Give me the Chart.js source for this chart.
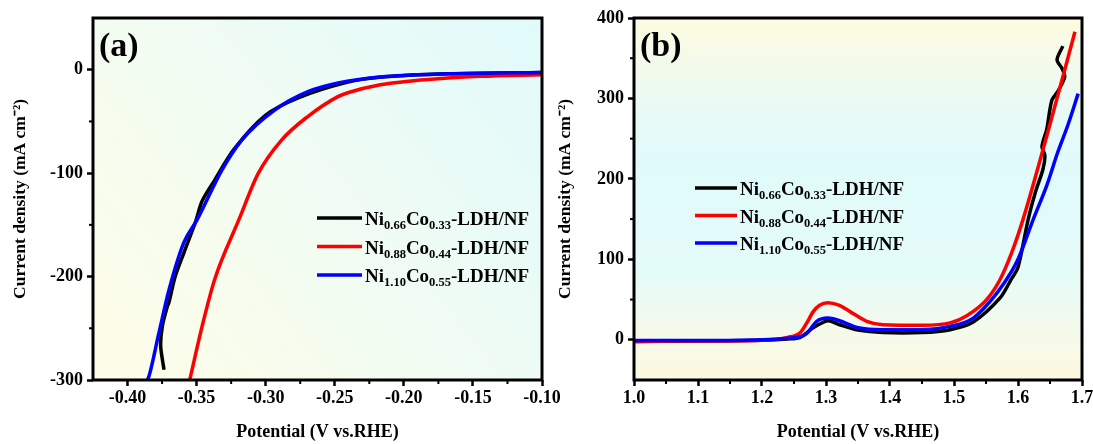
<!DOCTYPE html>
<html lang="en">
<head>
    <meta charset="UTF-8">
    <title>HER / OER polarization curves</title>
    <style>
        body { margin: 0; background: #fff; }
        .panel { position: absolute; top: 0; height: 444px; }
        #panelA { left: 0; width: 572px; }
        #panelB { left: 550px; width: 543px; }
    </style>
</head>
<body>
    <!-- two panels side by side, (a) HER and (b) OER -->
    <div class="panel" id="panelA"><canvas id="chartA"></canvas></div>
    <div class="panel" id="panelB"><canvas id="chartB"></canvas></div>

    <script src="https://cdn.jsdelivr.net/npm/chart.js"></script>
    <script>
        // ---- data ----
        const seriesColors = ["#000000", "#ff0000", "#0000ff"];
        // legend text split in normal / subscript pieces (1 = subscript)
        const seriesLabels = [
            [["Ni", 0], ["0.66", 1], ["Co", 0], ["0.33", 1], ["-LDH/NF", 0]],
            [["Ni", 0], ["0.88", 1], ["Co", 0], ["0.44", 1], ["-LDH/NF", 0]],
            [["Ni", 0], ["1.10", 1], ["Co", 0], ["0.55", 1], ["-LDH/NF", 0]]
        ];

        // panel (a) - HER
        const herBlackX = [-0.3736, -0.376, -0.3748, -0.3712, -0.370, -0.3655, -0.3592, -0.351, -0.346, -0.337, -0.323, -0.300, -0.276, -0.242, -0.218, -0.168, -0.100];
        const herBlackY = [-290, -267, -248, -229, -225, -200, -177, -148, -127, -107, -77, -44, -27, -12.5, -7.3, -4, -2.8];
        const herRedX = [-0.355, -0.346, -0.337, -0.3194, -0.3053, -0.2885, -0.2693, -0.2477, -0.240, -0.217, -0.193, -0.168, -0.145, -0.100];
        const herRedY = [-300, -248, -203, -145, -100, -68, -45, -26, -22, -14.5, -10.6, -8, -6.4, -4.8];
        const herBlueX = [-0.3856, -0.3844, -0.3772, -0.370, -0.3592, -0.3496, -0.3317, -0.3173, -0.2935, -0.269, -0.2475, -0.217, -0.168, -0.100];
        const herBlueY = [-300, -296, -254, -213, -167, -145, -97, -68, -39, -21, -12.8, -7, -4, -2.6];

        // panel (b) - OER
        const oerBlackX = [1.00, 1.10, 1.20, 1.24, 1.26, 1.28, 1.303, 1.32, 1.35, 1.389, 1.45, 1.494, 1.53, 1.572, 1.59, 1.60, 1.616, 1.627, 1.639, 1.642, 1.6375, 1.645, 1.653, 1.6625, 1.673, 1.669, 1.661, 1.670];
        const oerBlackY = [-2, -1.5, -0.5, 1, 3, 15, 23.7, 19, 12, 9, 9, 12.5, 22, 52, 76, 90, 150, 183, 212, 229, 240, 262, 298, 309, 327, 337, 348, 365];
        const oerRedX = [1.00, 1.10, 1.20, 1.24, 1.26, 1.27, 1.28, 1.29, 1.303, 1.32, 1.3375, 1.3636, 1.389, 1.45, 1.494, 1.52, 1.551, 1.572, 1.59, 1.608, 1.65, 1.689];
        const oerRedY = [-2, -1.5, -0.5, 3, 9, 21, 35, 43, 46, 43, 35, 23, 18.8, 18, 21, 30, 50, 75, 108, 150, 268, 383];
        const oerBlueX = [1.00, 1.10, 1.20, 1.24, 1.26, 1.27, 1.2855, 1.303, 1.32, 1.35, 1.389, 1.45, 1.494, 1.53, 1.567, 1.59, 1.60, 1.624, 1.645, 1.6625, 1.678, 1.694];
        const oerBlueY = [-1, -1, 0, 2, 4, 8, 23, 27, 24, 15, 12.5, 12.5, 16.7, 27, 58, 85, 100, 150, 192, 234, 267, 306];

        // axis ticks
        const herXTicks = [-0.40, -0.35, -0.30, -0.25, -0.20, -0.15, -0.10];
        const herXMinor = [-0.375, -0.325, -0.275, -0.225, -0.175, -0.125];
        const herYTicks = [-300, -200, -100, 0];
        const herYMinor = [-250, -150, -50];
        const oerXTicks = [1.0, 1.1, 1.2, 1.3, 1.4, 1.5, 1.6, 1.7];
        const oerXMinor = [1.05, 1.15, 1.25, 1.35, 1.45, 1.55, 1.65];
        const oerYTicks = [0, 100, 200, 300, 400];
        const oerYMinor = [50, 150, 250, 350];

        const serif = "'Liberation Serif', 'Times New Roman', serif";

        // zip x / y arrays into {x, y} points
        function pts(xs, ys) {
            return xs.map((x, i) => ({ x: x, y: ys[i] }));
        }

        // background gradient, frame, minor ticks, panel letter and legend
        const framePlugin = {
            id: "frame",
            beforeDatasetsDraw(chart, args, opts) {
                const ctx = chart.ctx, a = chart.chartArea;
                let g;
                if (opts.diagonal) g = ctx.createLinearGradient(a.left, a.bottom, a.right, a.top);
                else g = ctx.createLinearGradient(0, a.top, 0, a.bottom);
                opts.stops.forEach(s => g.addColorStop(s[0], s[1]));
                ctx.save();
                ctx.fillStyle = g;
                ctx.fillRect(a.left, a.top, a.right - a.left, a.bottom - a.top);
                ctx.restore();
            },
            afterDraw(chart, args, opts) {
                const ctx = chart.ctx, a = chart.chartArea;
                const xs = chart.scales.x, ys = chart.scales.y;
                ctx.save();
                // minor ticks, pointing out
                ctx.strokeStyle = "#000";
                ctx.lineWidth = 2;
                opts.xMinor.forEach(v => {
                    const px = xs.getPixelForValue(v);
                    ctx.beginPath(); ctx.moveTo(px, a.bottom); ctx.lineTo(px, a.bottom + 4); ctx.stroke();
                });
                opts.yMinor.forEach(v => {
                    const py = ys.getPixelForValue(v);
                    ctx.beginPath(); ctx.moveTo(a.left, py); ctx.lineTo(a.left - 4, py); ctx.stroke();
                });
                // frame
                ctx.lineWidth = 3;
                ctx.strokeRect(a.left, a.top, a.right - a.left, a.bottom - a.top);

                // panel letter
                ctx.fillStyle = "#000";
                ctx.font = "bold 34px " + serif;
                ctx.textBaseline = "middle";
                ctx.fillText(opts.letter, a.left + 6, a.top + 29);

                // legend with subscripts
                const lg = opts.legend;
                chart.data.datasets.forEach((ds, i) => {
                    const y = lg.y + i * lg.gap;
                    ctx.strokeStyle = ds.borderColor;
                    ctx.lineWidth = 3.5;
                    ctx.beginPath(); ctx.moveTo(lg.x0, y); ctx.lineTo(lg.x1, y); ctx.stroke();
                    let tx = lg.x1 + 3;
                    ctx.textBaseline = "alphabetic";
                    seriesLabels[i].forEach(p => {
                        ctx.font = p[1] ? "bold 12.5px " + serif : "bold 19px " + serif;
                        ctx.fillText(p[0], tx, p[1] ? y + 11 : y + 7);
                        tx += ctx.measureText(p[0]).width;
                    });
                });
                ctx.restore();
            }
        };

        function makeChart(id, cfg) {
            const sets = cfg.series.map((s, i) => ({
                label: seriesLabels[i].map(p => p[0]).join(""),
                data: s,
                borderColor: seriesColors[i],
                backgroundColor: seriesColors[i],
                borderWidth: 3.5,
                pointRadius: 0,
                showLine: true,
                tension: 0.3,
                // black curves turn back on x, so only red / blue get monotone smoothing
                cubicInterpolationMode: i === 0 ? "default" : "monotone",
                order: 3 - i
            }));
            return new Chart(document.getElementById(id), {
                type: "scatter",
                data: { datasets: sets },
                plugins: [framePlugin],
                options: {
                    responsive: true,
                    maintainAspectRatio: false,
                    animation: false,
                    layout: { padding: { top: 18, right: cfg.padRight, left: 0, bottom: 0 } },
                    plugins: {
                        legend: { display: false },
                        tooltip: { enabled: false },
                        frame: cfg.frame
                    },
                    scales: {
                        x: {
                            type: "linear",
                            min: cfg.xMin, max: cfg.xMax,
                            afterBuildTicks: s => { s.ticks = cfg.xTicks.map(v => ({ value: v })); },
                            afterFit: s => { s.height = 64; s.paddingLeft = 0; s.paddingRight = 0; },
                            grid: { display: true, drawOnChartArea: false, drawTicks: true, tickLength: 6, tickWidth: 2.5, tickColor: "#000" },
                            border: { display: false },
                            ticks: {
                                color: "#000", padding: 2, maxRotation: 0,
                                font: { family: serif, size: 18, weight: "bold" },
                                callback: v => v.toFixed(cfg.xDigits)
                            },
                            title: {
                                display: true, text: "Potential (V vs.RHE)", color: "#000",
                                font: { family: serif, size: 18, weight: "bold" },
                                padding: { top: 0, bottom: 1 }
                            }
                        },
                        y: {
                            type: "linear",
                            min: cfg.yMin, max: cfg.yMax,
                            afterBuildTicks: s => { s.ticks = cfg.yTicks.map(v => ({ value: v })); },
                            afterFit: s => { s.width = cfg.yWidth; },
                            grid: { display: true, drawOnChartArea: false, drawTicks: true, tickLength: 6, tickWidth: 2.5, tickColor: "#000" },
                            border: { display: false },
                            ticks: {
                                color: "#000", padding: 4,
                                font: { family: serif, size: 18, weight: "bold" }
                            },
                            title: {
                                display: true, text: "Current density (mA cm⁻²)", color: "#000",
                                font: { family: serif, size: 17.5, weight: "bold" },
                                padding: { top: cfg.titlePad, bottom: 0 }
                            }
                        }
                    }
                }
            });
        }

        makeChart("chartA", {
            series: [pts(herBlackX, herBlackY), pts(herRedX, herRedY), pts(herBlueX, herBlueY)],
            xMin: -0.425, xMax: -0.10, xTicks: herXTicks, xDigits: 2,
            yMin: -300, yMax: 50, yTicks: herYTicks,
            yWidth: 93, padRight: 30, titlePad: 10,
            frame: {
                diagonal: true,
                stops: [[0, "#fdfde6"], [0.5, "#f1fcf3"], [1, "#e0fafb"]],
                xMinor: herXMinor, yMinor: herYMinor, letter: "(a)",
                legend: { x0: 317, x1: 362, y: 218, gap: 28.5 }
            }
        });

        makeChart("chartB", {
            series: [pts(oerBlackX, oerBlackY), pts(oerRedX, oerRedY), pts(oerBlueX, oerBlueY)],
            xMin: 1.0, xMax: 1.7, xTicks: oerXTicks, xDigits: 1,
            yMin: -50, yMax: 400, yTicks: oerYTicks,
            yWidth: 84, padRight: 11, titlePad: 5,
            frame: {
                diagonal: false,
                stops: [[0, "#fefbe0"], [0.22, "#ebfaf3"], [0.4, "#e0fafb"], [0.7, "#e4fbf8"], [0.88, "#f6faea"], [1, "#fdf9e0"]],
                xMinor: oerXMinor, yMinor: oerYMinor, letter: "(b)",
                legend: { x0: 145, x1: 187, y: 188, gap: 27.5 }
            }
        });
    </script>
</body>
</html>
